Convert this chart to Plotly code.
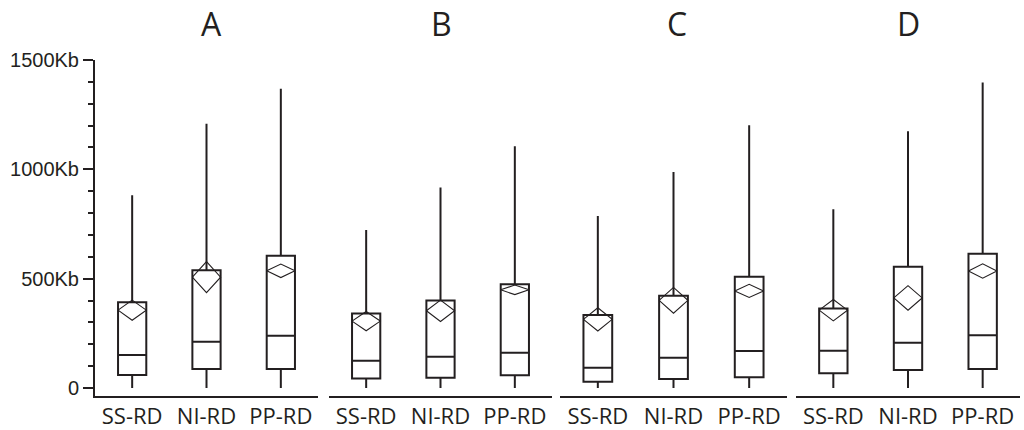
import plotly.graph_objects as go
from plotly.subplots import make_subplots

panels = ["A", "B", "C", "D"]
groups = ["SS-RD", "NI-RD", "PP-RD"]

# Box statistics in Kb (each row: SS-RD, NI-RD, PP-RD) for panels A..D
lower = [[0, 0, 0], [0, 0, 0], [0, 0, 0], [0, 0, 0]]
q1 = [[60, 87, 87], [43, 47, 58], [29, 41, 49], [67, 82, 87]]
median = [[151, 212, 239], [125, 143, 161], [93, 138, 169], [170, 207, 241]]
q3 = [[392, 539, 605], [341, 400, 474], [334, 422, 509], [364, 554, 614]]
upper = [[882, 1209, 1369], [722, 917, 1106], [787, 988, 1202], [817, 1174, 1397]]
# Mean and its confidence half-width (diamond) in Kb
mean = [[356, 507, 536], [306, 353, 449], [314, 401, 444], [356, 412, 535]]
ci = [[46, 71, 31], [44, 49, 22], [53, 59, 30], [49, 56, 33]]

y_ticks = [0, 500, 1000, 1500]
y_labels = ["0", "500Kb", "1000Kb", "1500Kb"]

INK = "#231f20"
BOX_W = 0.38

fig = make_subplots(rows=1, cols=4, shared_yaxes=True)

pos = [0, 1, 2]
for i, p in enumerate(panels):
    col = i + 1
    fig.add_trace(go.Box(
        x=pos, q1=q1[i], median=median[i], q3=q3[i],
        lowerfence=lower[i], upperfence=upper[i],
        width=BOX_W, whiskerwidth=0,
        fillcolor="rgba(255,255,255,0)",
        line=dict(color=INK, width=2),
        boxpoints=False, showlegend=False, hoverinfo="skip",
    ), row=1, col=col)
    dx, dy = [], []
    half = BOX_W / 2
    for k in range(3):
        m, h = mean[i][k], ci[i][k]
        dx += [k - half, k, k + half, k, k - half, None]
        dy += [m, m + h, m, m - h, m, None]
    fig.add_trace(go.Scatter(
        x=dx, y=dy, mode="lines",
        line=dict(color=INK, width=1.1),
        showlegend=False, hoverinfo="skip",
    ), row=1, col=col)

L, R = 95, 4
PW = 1024 - L - R
domains_px = [(95, 318), (329, 552), (560, 787), (796, 1020)]
title_px = [211, 441, 677, 908]

for i in range(4):
    ax = "xaxis" if i == 0 else f"xaxis{i+1}"
    d0, d1 = domains_px[i]
    fig.layout[ax].update(
        domain=[(d0 - L) / PW, (d1 - L) / PW],
        range=[-0.5, 2.5], automargin=False,
        tickmode="array", tickvals=pos, ticktext=groups,
        showline=True, linecolor=INK, linewidth=2,
        ticks="", showgrid=False, zeroline=False,
        tickfont=dict(family="Open Sans", size=22, color=INK),
    )
    yax = "yaxis" if i == 0 else f"yaxis{i+1}"
    fig.layout[yax].update(range=[-36.6, 1500], showgrid=False,
                           zeroline=False, automargin=False)
    if i > 0:
        fig.layout[yax].update(showline=False, showticklabels=False, ticks="")

fig.layout.yaxis.update(
    tickmode="array", tickvals=y_ticks, ticktext=y_labels,
    ticks="outside", ticklen=10, tickwidth=2, tickcolor=INK,
    showline=True, linecolor=INK, linewidth=2,
    tickfont=dict(family="Liberation Sans", size=20, color=INK),
    minor=dict(tickmode="linear", tick0=0, dtick=100, ticks="outside",
               ticklen=5, tickwidth=2, tickcolor=INK, showgrid=False),
)

for i, p in enumerate(panels):
    fig.add_annotation(
        text=p, xref="paper", yref="paper",
        x=(title_px[i] - L) / PW, y=1 + 36.5 / 336,
        xanchor="center", yanchor="middle", showarrow=False,
        font=dict(family="Open Sans", size=32, color=INK),
    )

fig.update_layout(
    width=1024, height=430,
    margin=dict(l=L, r=R, t=60, b=34),
    plot_bgcolor="white", paper_bgcolor="white",
)

fig.write_html("out.html",
               config={"displayModeBar": False},
               post_script="document.body.style.margin='0px';"
                           "document.body.style.overflow='hidden';")
